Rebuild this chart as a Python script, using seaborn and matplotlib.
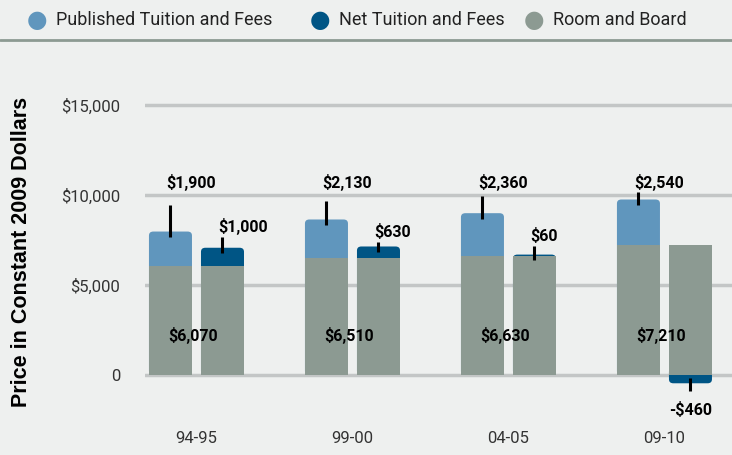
import numpy as np
import pandas as pd
import seaborn as sns
import matplotlib.pyplot as plt
from matplotlib.lines import Line2D
from matplotlib.patches import FancyBboxPatch

# data
years = ['94-95', '99-00', '04-05', '09-10']
room_board = [6070, 6510, 6630, 7210]
published = [1900, 2130, 2360, 2540]
net = [1000, 630, 60, -460]

series = ['Published Tuition and Fees', 'Net Tuition and Fees']
c_pub = '#6096bd'
c_net = '#005585'
c_room = '#8c9a92'
bg = '#eef0ef'

sns.set_theme(style='white')
plt.rcParams['font.family'] = ['Roboto', 'DejaVu Sans']

fig = plt.figure(figsize=(7.32, 4.55), dpi=100, facecolor=bg)
ax = fig.add_axes([145 / 732, 35 / 455, 587 / 732, 325 / 455], facecolor=bg)

W, GAP = 0.667, 0.173

# empilhado: totais de mensalidade primeiro, depois hospedagem por cima da base
tot_pub = [r + p for r, p in zip(room_board, published)]
tot_net = [r + n if n >= 0 else n for r, n in zip(room_board, net)]
df_top = pd.DataFrame({'year': years * 2, 'serie': np.repeat(series, 4),
                       'valor': tot_pub + tot_net})
sns.barplot(data=df_top, x='year', y='valor', hue='serie', hue_order=series,
            palette=[c_pub, c_net], saturation=1, width=W, gap=GAP,
            errorbar=None, legend=False, ax=ax, linewidth=0)

# cantos arredondados nas barras de mensalidade
for p in list(ax.patches):
    x0, y0 = p.get_x(), p.get_y()
    w, h = p.get_width(), p.get_height()
    if h < 0:
        # barra negativa: comeca acima do zero (escondida pela hospedagem)
        y0, h = y0 + h, -h + 400
    fb = FancyBboxPatch((x0, y0), w, h,
                        boxstyle='round,pad=0,rounding_size=0.028',
                        mutation_aspect=8000, fc=p.get_facecolor(), lw=0,
                        zorder=0.95)
    p.remove()
    ax.add_patch(fb)

df_room = pd.DataFrame({'year': years * 2, 'serie': np.repeat(series, 4),
                        'valor': room_board * 2})
sns.barplot(data=df_room, x='year', y='valor', hue='serie', hue_order=series,
            palette=[c_room, c_room], saturation=1, width=W, gap=GAP,
            errorbar=None, legend=False, ax=ax, linewidth=0)

off = W / 4
lab = dict(fontsize=11.5, fontweight='bold', color='black')
# linhas-guia + rotulos
lead_pub = [1470, 1030, 950, 420]
lead_net = [600, 250, 480, -430]
for i in range(4):
    top_p = tot_pub[i]
    xp = i - off
    ax.plot([xp, xp], [top_p - 300, top_p + lead_pub[i]], color='black', lw=2.2,
            solid_capstyle='butt', zorder=5)
    ax.text(xp - 0.03, 10670, f'${published[i]:,}', ha='left', va='center', **lab)

    xn = i + off
    if net[i] >= 0:
        top_n = tot_net[i]
        ax.plot([xn, xn], [top_n - 300, top_n + lead_net[i]], color='black',
                lw=2.2, solid_capstyle='butt', zorder=5)
        ax.text(xn - 0.03, top_n + lead_net[i] + 580, f'${net[i]:,}', ha='left',
                va='center', **lab)
    else:
        ax.plot([xn, xn], [net[i] + 290, net[i] + lead_net[i]], color='black',
                lw=2.2, solid_capstyle='butt', zorder=5)
        ax.text(xn, -1940, f'-${abs(net[i]):,}', ha='center', va='center', **lab)

    ax.text(i - 0.02, 2220, f'${room_board[i]:,}', ha='center', va='center',
            zorder=6, **lab)

ax.set_ylim(-2500, 15556)
ax.set_xlim(-0.33, 3.433)
ax.set_yticks([0, 5000, 10000, 15000])
ax.set_yticklabels(['0', '$5,000', '$10,000', '$15,000'])
ax.yaxis.grid(True, color='#c3c6c6', lw=2.5)
ax.set_axisbelow(True)
ax.tick_params(axis='both', length=0, labelsize=12, colors='#333333')
ax.tick_params(axis='y', pad=18)
ax.tick_params(axis='x', pad=8)
ax.set_xlabel('')
ax.set_ylabel('')
for s in ax.spines.values():
    s.set_visible(False)

fig.text(22 / 732, 1 - 252 / 455, 'Price in Constant 2009 Dollars',
         rotation=90, ha='center', va='center', fontsize=15.5, fontweight='bold',
         family=['Liberation Sans', 'DejaVu Sans'], color='black')

# legenda no topo
itens = [('Published Tuition and Fees', c_pub, 37),
         ('Net Tuition and Fees', c_net, 320),
         ('Room and Board', c_room, 534)]
for nome, cor, px in itens:
    fig.text(px / 732, 1 - 20 / 455, '\u25cf', color=cor, fontsize=17,
             ha='center', va='center', family='DejaVu Sans')
    fig.text((px + 19) / 732, 1 - 20 / 455, nome, color='#222222', fontsize=13,
             ha='left', va='center')
fig.add_artist(Line2D([0, 1], [1 - 40 / 455, 1 - 40 / 455], color=c_room, lw=2,
                      transform=fig.transFigure))

fig.savefig('out.png', dpi=100, facecolor=bg)
